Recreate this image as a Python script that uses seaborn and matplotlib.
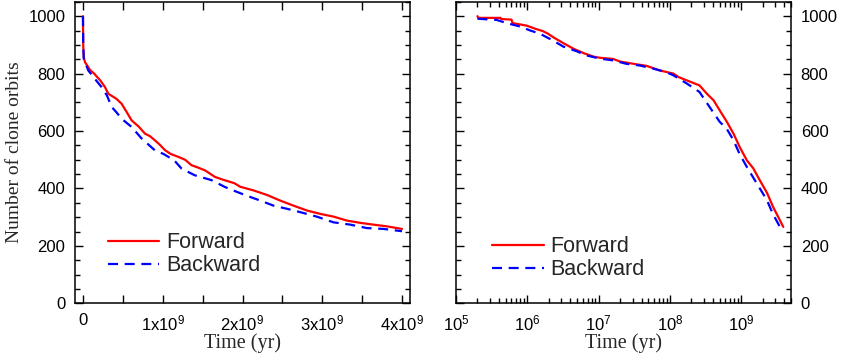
import numpy as np
import pandas as pd
import matplotlib
matplotlib.use("Agg")
import matplotlib.pyplot as plt
import matplotlib.ticker as mticker
import seaborn as sns

# ---------------- data ----------------
directions = ["Forward", "Backward"]

# linear-time panel (years)
fwd_t_lin = [0, 3e6, 1e7, 2.5e7, 9e7, 1.4e8, 2.2e8, 2.76e8, 3.17e8, 4.2e8, 4.84e8,
             5.5e8, 6.1e8, 7.0e8, 7.77e8, 8.4e8, 9.0e8, 9.6e8, 1.03e9, 1.10e9, 1.195e9,
             1.28e9, 1.36e9, 1.43e9, 1.53e9, 1.655e9, 1.76e9, 1.90e9, 1.97e9, 2.14e9,
             2.31e9, 2.47e9, 2.64e9, 2.81e9, 2.98e9, 3.14e9, 3.31e9, 3.48e9, 3.64e9,
             3.81e9, 4.0e9]
fwd_n_lin = [1000, 900, 857, 840, 812, 800, 775, 753, 730, 712, 695,
             665, 637, 615, 591, 582, 568, 553, 533, 520, 510,
             500, 481, 474, 463, 440, 430, 418, 406, 393,
             377, 358, 340, 323, 311, 302, 288, 280, 274,
             268, 259]

bwd_t_lin = [0, 3e6, 1e7, 6.6e7, 1.8e8, 2.33e8, 3.0e8, 3.6e8, 4.2e8, 4.84e8,
             6.1e8, 7.35e8, 8.2e8, 9.0e8, 1.01e9, 1.07e9, 1.14e9, 1.236e9, 1.40e9,
             1.61e9, 1.78e9, 1.93e9, 2.05e9, 2.22e9, 2.39e9, 2.56e9, 2.73e9, 2.93e9,
             3.14e9, 3.35e9, 3.56e9, 3.77e9, 4.0e9]
bwd_n_lin = [1000, 900, 851, 811, 771, 753, 724, 684, 665, 643,
             614, 574, 553, 533, 520, 510, 499, 469, 446,
             429, 405, 388, 375, 358, 340, 329, 317, 302,
             282, 274, 262, 259, 251]

# logarithmic-time panel (years)
fwd_t_log = [2.0e5, 2.05e5, 4.2e5, 4.3e5, 6.0e5, 6.2e5, 9.8e5, 1.3e6, 1.65e6, 1.95e6,
             2.3e6, 3.2e6, 4.5e6, 6.2e6, 8.5e6, 1.05e7, 1.6e7, 2.0e7, 3.1e7, 4.7e7,
             7.2e7, 1.12e8, 1.32e8, 1.74e8, 2.6e8, 3.3e8, 4.1e8, 5.0e8, 6.3e8, 7.8e8,
             9.5e8, 1.2e9, 1.48e9, 1.82e9, 2.3e9, 2.8e9, 3.9e9]
fwd_n_log = [1000, 994, 994, 990, 988, 976, 967, 956, 948, 939,
             927, 906, 886, 871, 859, 855, 851, 842, 834, 827,
             811, 800, 788, 776, 759, 730, 707, 672, 632, 591,
             545, 498, 470, 429, 385, 336, 266]

bwd_t_log = [2.0e5, 3.7e5, 5.1e5, 7.9e5, 1.1e6, 1.5e6, 2.3e6, 3.2e6, 4.9e6, 6.8e6,
             1.05e7, 1.6e7, 2.45e7, 3.8e7, 5.9e7, 8.9e7, 1.12e8, 1.74e8, 2.6e8, 3.6e8,
             5.0e8, 6.3e8, 7.8e8, 9.5e8, 1.2e9, 1.66e9, 2.3e9, 2.8e9, 3.7e9]
bwd_n_log = [991, 987, 976, 964, 950, 939, 915, 894, 878, 863,
             852, 846, 834, 828, 817, 805, 794, 765, 736, 684,
             632, 607, 568, 520, 475, 417, 359, 310, 255]

lin_xticks = [0, 1e9, 2e9, 3e9, 4e9]
lin_xticklabels = ["0", "1x10$^{9}$", "2x10$^{9}$", "3x10$^{9}$", "4x10$^{9}$"]
log_xticks = [1e5, 1e6, 1e7, 1e8, 1e9]
log_xticklabels = ["10$^{5}$", "10$^{6}$", "10$^{7}$", "10$^{8}$", "10$^{9}$"]
yticks = [0, 200, 400, 600, 800, 1000]

# ---------------- style ----------------
sns.set_theme(style="white")
plt.rcParams["font.family"] = ["Liberation Sans", "DejaVu Sans"]
plt.rcParams["mathtext.fontset"] = "custom"
plt.rcParams["mathtext.rm"] = "Liberation Sans"
plt.rcParams["mathtext.it"] = "Liberation Sans:italic"
plt.rcParams["mathtext.bf"] = "Liberation Sans:bold"

palette = {"Forward": "#ff0000", "Backward": "#0000ff"}
dashes = {"Forward": "", "Backward": (4.5, 3)}

def frame(t_f, n_f, t_b, n_b):
    return pd.concat([
        pd.DataFrame({"t": t_f, "n": n_f, "dir": "Forward"}),
        pd.DataFrame({"t": t_b, "n": n_b, "dir": "Backward"}),
    ], ignore_index=True)

df_lin = frame(fwd_t_lin, fwd_n_lin, bwd_t_lin, bwd_n_lin)
df_log = frame(fwd_t_log, fwd_n_log, bwd_t_log, bwd_n_log)

fig = plt.figure(figsize=(8.45, 3.54), dpi=100)
ax1 = fig.add_axes([75 / 845, 1 - 303.3 / 354, 335 / 845, 301.5 / 354])
ax2 = fig.add_axes([456 / 845, 1 - 303.3 / 354, 335 / 845, 301.5 / 354])

for ax, df in ((ax1, df_lin), (ax2, df_log)):
    sns.lineplot(data=df, x="t", y="n", hue="dir", style="dir",
                 hue_order=directions, style_order=directions,
                 palette=palette, dashes=dashes, sort=False, estimator=None,
                 linewidth=1.6, legend=False, ax=ax)
    for sp in ax.spines.values():
        sp.set_linewidth(1.1)
        sp.set_color("black")
    ax.set_ylim(0, 1050)
    ax.set_yticks(yticks)
    ax.yaxis.set_minor_locator(mticker.MultipleLocator(50))
    ax.tick_params(which="both", direction="in", top=True, bottom=True,
                   left=True, right=True, colors="black", width=1.0,
                   labelsize=12)
    ax.tick_params(which="major", length=6, pad=7)
    ax.tick_params(which="minor", length=3.5)
    ax.set_xlabel("Time (yr)", family=["Liberation Serif"], fontsize=14.5, labelpad=0)
    handles = ax.lines[:2]
    ax.legend(handles, directions, frameon=False, fontsize=15.5,
              handlelength=2.4, handletextpad=0.3, labelspacing=0.08,
              borderpad=0, borderaxespad=0, loc="lower left")

# left panel
ax1.set_xlim(-1e8, 4.1e9)
ax1.set_xticks(lin_xticks)
ax1.set_xticklabels(lin_xticklabels)
ax1.xaxis.set_minor_locator(mticker.MultipleLocator(5e8))
ax1.tick_params(axis="x", which="minor", length=6)
ax1.tick_params(axis="y", labelleft=True, labelright=False)
ax1.set_ylabel("Number of clone orbits", family=["Liberation Serif"], fontsize=14,
               labelpad=4)
ax1.get_legend().set_bbox_to_anchor((0.098, 0.09))

# right panel
ax2.set_xscale("log")
ax2.set_xlim(1e5, 5e9)
ax2.set_xticks(log_xticks)
ax2.set_xticklabels(log_xticklabels)
ax2.xaxis.set_minor_locator(mticker.LogLocator(base=10, subs=np.arange(2, 10), numticks=20))
ax2.xaxis.set_minor_formatter(mticker.NullFormatter())
ax2.tick_params(axis="y", labelleft=False, labelright=True)
ax2.set_ylabel("")
ax2.get_legend().set_bbox_to_anchor((0.107, 0.077))

fig.savefig("out.png", dpi=100)
